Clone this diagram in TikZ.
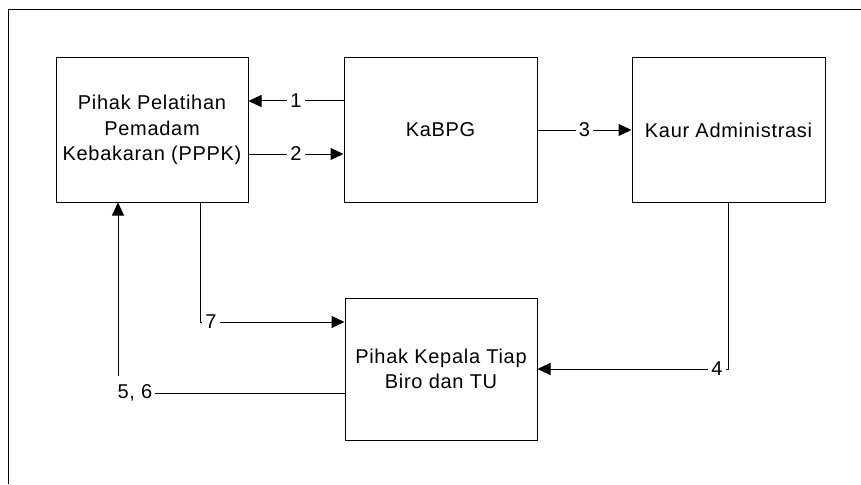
\documentclass[tikz,border=0pt]{standalone}
\usepackage{fontspec}
\setmainfont{Liberation Sans}[LetterSpace=3.5]
\usetikzlibrary{arrows.meta}
\begin{document}
\begin{tikzpicture}[x=1pt,y=-1pt,
  every node/.style={font=\fontsize{20}{25.5}\selectfont},
  box/.style={draw, line width=1pt, minimum width=192pt, minimum height=144pt, align=center, inner sep=0pt},
  arr/.style={line width=1pt, -{Triangle[length=13pt,width=12pt]}},
  plain/.style={line width=1pt},
  lbl/.style={fill=white, inner sep=3pt}]
\useasboundingbox (0,0) rectangle (861,484);
\draw[plain] (8,484) -- (8,10) -- (861,10);
\node[box] (a) at (152,130) {Pihak Pelatihan\\Pemadam\\Kebakaran (PPPK)};
\node[box, minimum width=193pt] (b) at (440.5,130) {KaBPG};
\node[box, minimum width=193pt] (c) at (728.5,130) {Kaur Administrasi};
\node[box, minimum height=142pt] (d) at (441,369) {Pihak Kepala Tiap\\Biro dan TU};
\draw[arr] ([yshift=29pt]b.west) -- node[lbl] {1} ([yshift=29pt]a.east);
\draw[arr] ([yshift=-24pt]a.east) -- node[lbl] {2} ([yshift=-24pt]b.west);
\draw[arr] (b.east) -- node[lbl] {3} (c.west);
\draw[arr] (c.south) |- node[lbl, pos=0.53] {4} (d.east);
\draw[arr] ([xshift=48pt]a.south) |- node[lbl, pos=0.538] {7} ([yshift=47pt]d.west);
\draw[arr] ([yshift=-24pt]d.west) -| node[lbl, pos=0.4625, minimum height=34pt] {5, 6} ([xshift=-34pt]a.south);
\end{tikzpicture}
\end{document}
